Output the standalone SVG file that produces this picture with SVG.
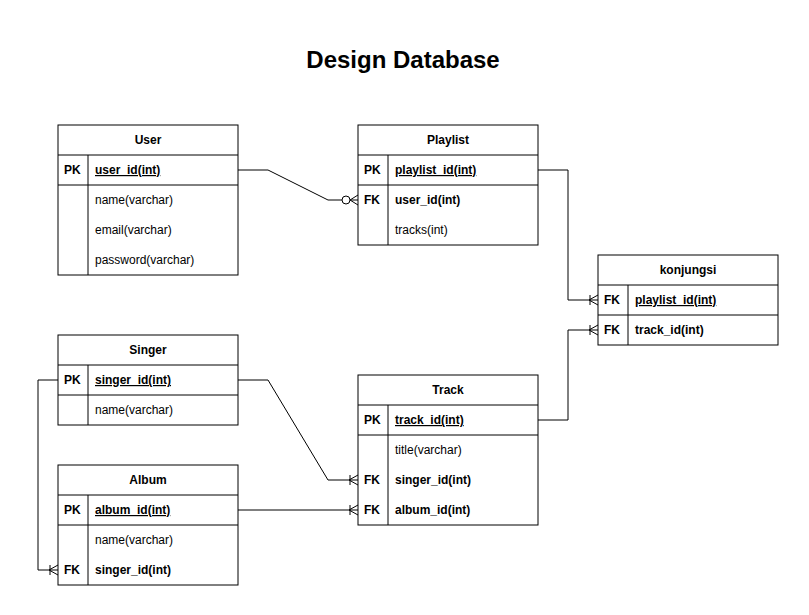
<svg xmlns="http://www.w3.org/2000/svg" width="809" height="615" viewBox="0 0 809 615">
<style>
.box{fill:#fff;stroke:#000;stroke-width:1}
.ln{stroke:#000;stroke-width:1;fill:none}
text{font-family:"Liberation Sans",Arial,sans-serif;font-size:12px;fill:#000}
.h{font-weight:bold;text-anchor:middle}
.b{font-weight:bold}
.u{text-decoration:underline}
.t{font-size:24px;font-weight:bold;text-anchor:middle}
</style>
<rect width="809" height="615" fill="#fff"/>
<text class="t" x="403" y="68">Design Database</text>

<g id="user">
<rect class="box" x="58" y="125" width="180" height="150"/>
<line class="ln" x1="58" y1="155" x2="238" y2="155"/>
<line class="ln" x1="58" y1="185" x2="238" y2="185"/>
<line class="ln" x1="88" y1="155" x2="88" y2="275"/>
<text class="h" x="148" y="144">User</text>
<text class="b" x="64" y="174">PK</text>
<text class="b u" x="95" y="174">user_id(int)</text>
<text x="95" y="204">name(varchar)</text>
<text x="95" y="234">email(varchar)</text>
<text x="95" y="264">password(varchar)</text>
</g>

<g id="playlist">
<rect class="box" x="358" y="125" width="180" height="120"/>
<line class="ln" x1="358" y1="155" x2="538" y2="155"/>
<line class="ln" x1="358" y1="185" x2="538" y2="185"/>
<line class="ln" x1="388" y1="155" x2="388" y2="245"/>
<text class="h" x="448" y="144">Playlist</text>
<text class="b" x="364" y="174">PK</text>
<text class="b u" x="395" y="174">playlist_id(int)</text>
<text class="b" x="364" y="204">FK</text>
<text class="b" x="395" y="204">user_id(int)</text>
<text x="395" y="234">tracks(int)</text>
</g>

<g id="konjungsi">
<rect class="box" x="598" y="255" width="180" height="90"/>
<line class="ln" x1="598" y1="285" x2="778" y2="285"/>
<line class="ln" x1="598" y1="315" x2="778" y2="315"/>
<line class="ln" x1="628" y1="285" x2="628" y2="345"/>
<text class="h" x="688" y="274">konjungsi</text>
<text class="b" x="604" y="304">FK</text>
<text class="b u" x="635" y="304">playlist_id(int)</text>
<text class="b" x="604" y="334">FK</text>
<text class="b" x="635" y="334">track_id(int)</text>
</g>

<g id="singer">
<rect class="box" x="58" y="335" width="180" height="90"/>
<line class="ln" x1="58" y1="365" x2="238" y2="365"/>
<line class="ln" x1="58" y1="395" x2="238" y2="395"/>
<line class="ln" x1="88" y1="365" x2="88" y2="425"/>
<text class="h" x="148" y="354">Singer</text>
<text class="b" x="64" y="384">PK</text>
<text class="b u" x="95" y="384">singer_id(int)</text>
<text x="95" y="414">name(varchar)</text>
</g>

<g id="album">
<rect class="box" x="58" y="465" width="180" height="120"/>
<line class="ln" x1="58" y1="495" x2="238" y2="495"/>
<line class="ln" x1="58" y1="525" x2="238" y2="525"/>
<line class="ln" x1="88" y1="495" x2="88" y2="585"/>
<text class="h" x="148" y="484">Album</text>
<text class="b" x="64" y="514">PK</text>
<text class="b u" x="95" y="514">album_id(int)</text>
<text x="95" y="544">name(varchar)</text>
<text class="b" x="64" y="574">FK</text>
<text class="b" x="95" y="574">singer_id(int)</text>
</g>

<g id="track">
<rect class="box" x="358" y="375" width="180" height="150"/>
<line class="ln" x1="358" y1="405" x2="538" y2="405"/>
<line class="ln" x1="358" y1="435" x2="538" y2="435"/>
<line class="ln" x1="388" y1="405" x2="388" y2="525"/>
<text class="h" x="448" y="394">Track</text>
<text class="b" x="364" y="424">PK</text>
<text class="b u" x="395" y="424">track_id(int)</text>
<text x="395" y="454">title(varchar)</text>
<text class="b" x="364" y="484">FK</text>
<text class="b" x="395" y="484">singer_id(int)</text>
<text class="b" x="364" y="514">FK</text>
<text class="b" x="395" y="514">album_id(int)</text>
</g>

<g id="connectors" class="ln">
<path class="ln" d="M238 170 H268 L328 200 H342"/>
<circle cx="346" cy="200" r="4" fill="#fff" stroke="#000"/>
<path class="ln" d="M350 200 H358 M358 195 L350 200 L358 205"/>
<path class="ln" d="M538 170 H568 V300 H598 M598 295 L589 300 L598 305 M590 295 V305"/>
<path class="ln" d="M538 420 H568 V330 H598 M598 325 L589 330 L598 335 M590 325 V335"/>
<path class="ln" d="M238 380 H268 L328 480 H358 M358 475 L349 480 L358 485 M350 475 V485"/>
<path class="ln" d="M238 510 H358 M358 505 L349 510 L358 515 M350 505 V515"/>
<path class="ln" d="M58 380 H38 V570 H58 M58 565 L49 570 L58 575 M50 565 V575"/>
</g>
</svg>
